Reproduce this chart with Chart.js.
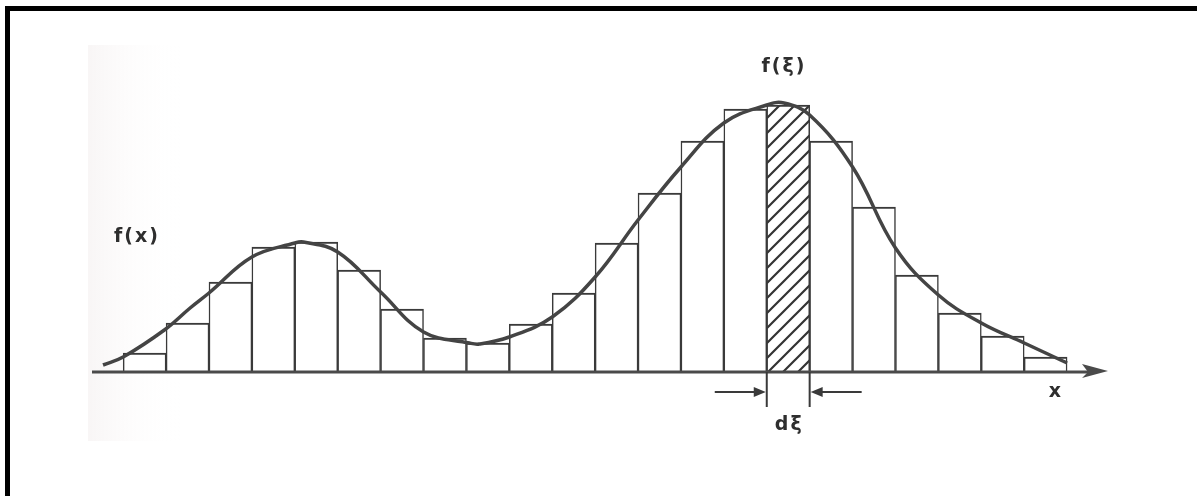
<!DOCTYPE html>
<html>
<head>
<meta charset="utf-8">
<script src="https://cdn.jsdelivr.net/npm/chart.js@4"></script>
<style>
  html, body { margin: 0; padding: 0; background: #fff; overflow: hidden; }
  canvas { display: block; }
</style>
</head>
<body>
<canvas id="histo" width="1197" height="496"></canvas>
<script>
// step function (histogram) - one bar per interval of width 1
var binCenters = [0.5, 1.5, 2.5, 3.5, 4.5, 5.5, 6.5, 7.5, 8.5, 9.5, 10.5,
                  11.5, 12.5, 13.5, 14.5, 15.5, 16.5, 17.5, 18.5, 19.5, 20.5, 21.5];
var binHeights = [1.9, 4.9, 9.0, 12.5, 13.0, 10.2, 6.3, 3.4, 2.9, 4.8, 7.9,
                  12.9, 17.9, 23.1, 26.3, 26.7, 23.1, 16.5, 9.7, 5.9, 3.6, 1.5];
var shadedBin = 15;   // the d-xi strip

// smooth density f(x)
var curveX = [-0.47, 0, 0.96, 1.56, 2, 3, 4, 4.2, 5, 6, 7, 8.07, 8.3, 9, 10,
              11, 12, 13, 14, 15, 15.4, 16, 17, 18, 19, 20, 21, 22];
var curveY = [0.7, 1.5, 4.2, 6.4, 7.9, 11.5, 12.9, 13.0, 12.0, 8.0, 4.0, 2.9, 2.8, 3.5, 5.5,
              9.5, 15.2, 20.5, 24.9, 26.7, 26.9, 25.7, 20.5, 12.4, 7.7, 4.9, 2.9, 0.9];

var labels = { fx: "f(x)", fxi: "f(ξ)", dxi: "dξ", x: "x" };

var viewport = document.getElementById("histo");
var ctx = viewport.getContext("2d");

// diagonal hatching for the shaded strip
var pc = document.createElement("canvas");
pc.width = 15; pc.height = 15;
var pctx = pc.getContext("2d");
pctx.fillStyle = "#fff";
pctx.fillRect(0, 0, 15, 15);
pctx.strokeStyle = "#333";
pctx.lineWidth = 2.2;
pctx.beginPath();
pctx.moveTo(-7.5, 7.5); pctx.lineTo(7.5, -7.5);
pctx.moveTo(0, 15); pctx.lineTo(15, 0);
pctx.moveTo(7.5, 22.5); pctx.lineTo(22.5, 7.5);
pctx.stroke();
var hatch = ctx.createPattern(pc, "repeat");

var barFills = binHeights.map(function (h, i) {
    return i === shadedBin ? hatch : "#ffffff";
});

var curvePoints = curveX.map(function (x, i) {
    return { x: x, y: curveY[i] };
});

var decorations = {
    id: "decorations",
    beforeDraw: function (chart) {
        var c = chart.ctx;
        c.save();
        var g = c.createLinearGradient(88, 0, 180, 0);
        g.addColorStop(0, "rgba(240,234,234,0.45)");
        g.addColorStop(1, "rgba(255,255,255,0)");
        c.fillStyle = g;
        c.fillRect(88, 45, 92, 396);
        c.restore();
    },
    afterDraw: function (chart) {
        var c = chart.ctx;
        var xs = chart.scales.x, ys = chart.scales.y;
        var y0 = ys.getPixelForValue(0);
        c.save();

        // x axis with arrow
        c.strokeStyle = "#4a4a4a";
        c.lineWidth = 3;
        c.beginPath();
        c.moveTo(xs.left + 1, y0);
        c.lineTo(xs.right - 20, y0);
        c.stroke();
        c.fillStyle = "#4a4a4a";
        c.beginPath();
        c.moveTo(xs.right - 2, y0 - 1);
        c.lineTo(xs.right - 28, y0 - 8);
        c.lineTo(xs.right - 22, y0);
        c.lineTo(xs.right - 28, y0 + 6);
        c.closePath();
        c.fill();

        // d-xi markers
        var l = xs.getPixelForValue(shadedBin), r = xs.getPixelForValue(shadedBin + 1);
        c.lineWidth = 2;
        c.strokeStyle = "#3a3a3a";
        c.beginPath();
        c.moveTo(l, y0); c.lineTo(l, y0 + 35);
        c.moveTo(r, y0); c.lineTo(r, y0 + 35);
        c.moveTo(l - 52, y0 + 20); c.lineTo(l - 8, y0 + 20);
        c.moveTo(r + 52, y0 + 20); c.lineTo(r + 8, y0 + 20);
        c.stroke();
        c.fillStyle = "#3a3a3a";
        c.beginPath();
        c.moveTo(l - 1, y0 + 20); c.lineTo(l - 13, y0 + 15); c.lineTo(l - 13, y0 + 25); c.closePath();
        c.moveTo(r + 1, y0 + 20); c.lineTo(r + 13, y0 + 15); c.lineTo(r + 13, y0 + 25); c.closePath();
        c.fill();

        // labels
        c.fillStyle = "#2e2e2e";
        c.font = 'bold 19px "DejaVu Sans"';
        c.textAlign = "center";
        c.textBaseline = "middle";
        c.letterSpacing = "2px";
        c.fillText(labels.fx, 137, 237);
        c.fillText(labels.fxi, xs.getPixelForValue(15.4), 67);
        c.fillText(labels.dxi, (l + r) / 2 + 1, y0 + 53);
        c.letterSpacing = "0px";
        c.fillText(labels.x, 1055, y0 + 20);

        // frame (top and left edges of the scan)
        c.fillStyle = "#000";
        c.fillRect(5, 6, 1192, 5);
        c.fillRect(5, 6, 5, 490);
        c.restore();
    }
};

var histoGraph = {
    type: "bar",
    label: "step function",
    data: binHeights.map(function (h, i) { return { x: binCenters[i], y: h }; }),
    backgroundColor: barFills,
    borderColor: "#3a3a3a",
    borderWidth: { top: 2, left: 1.5, right: 1.5, bottom: 0 },
    borderSkipped: false,
    barPercentage: 1,
    categoryPercentage: 1,
    order: 1
};

var curveGraph = {
    type: "line",
    label: "f(x)",
    data: curvePoints,
    borderColor: "#444",
    borderWidth: 3.5,
    pointRadius: 0,
    fill: false,
    tension: 0.4,
    order: 0
};

var chartData = {
    data: {
        datasets: [curveGraph, histoGraph]
    },
    options: {
        responsive: false,
        animation: false,
        layout: { padding: { left: 91, right: 87, top: 72, bottom: 124 } },
        plugins: { legend: { display: false }, tooltip: { enabled: false } },
        scales: {
            x: { type: "linear", min: -0.75, max: 23, offset: false, display: false },
            y: { min: 0, max: 30, display: false }
        }
    },
    plugins: [decorations]
};

var myChart = new Chart(ctx, chartData);
</script>
</body>
</html>
